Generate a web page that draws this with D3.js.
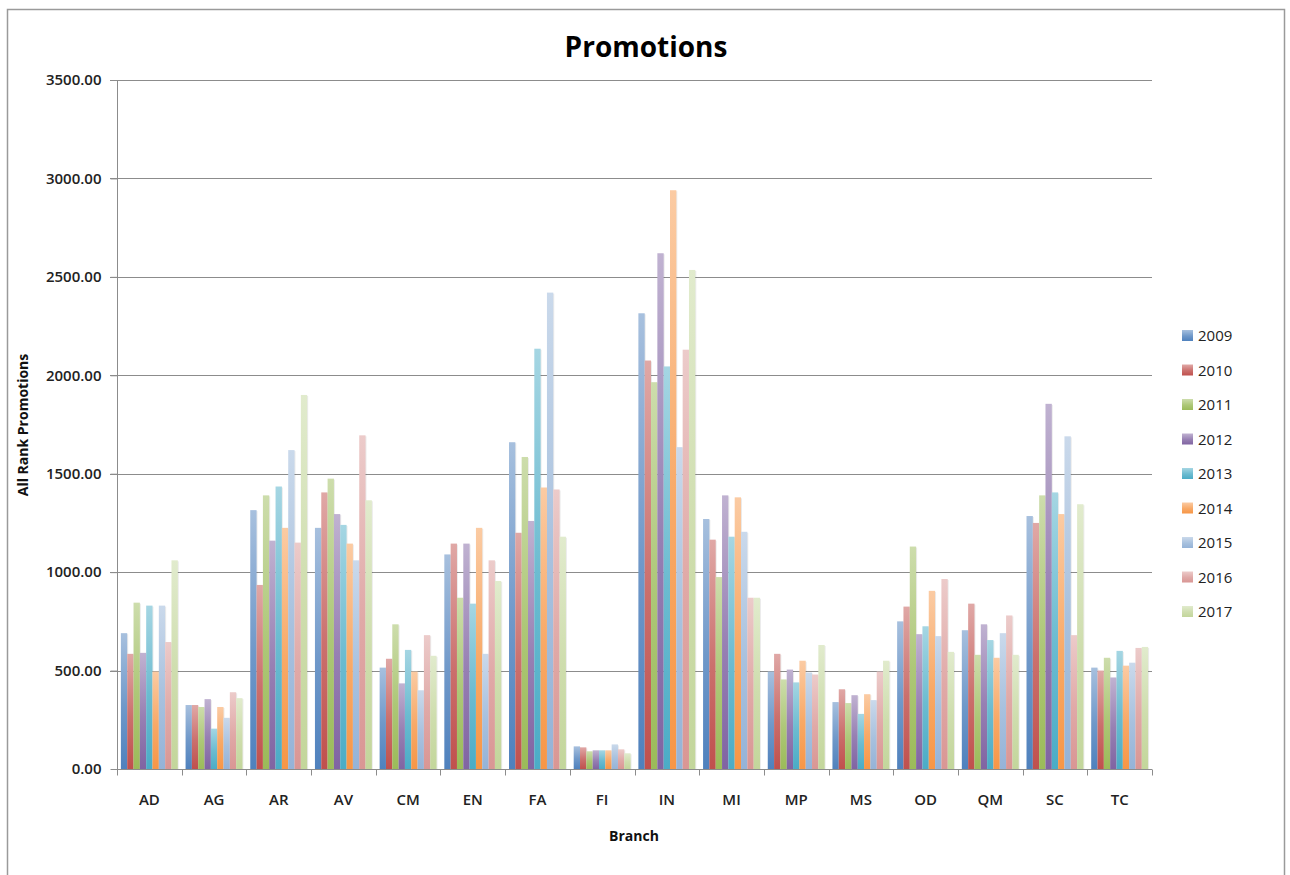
<!DOCTYPE html>
<html>
<head>
<meta charset="utf-8">
<script src="https://cdn.jsdelivr.net/npm/d3@7/dist/d3.min.js"></script>
<style>
  html, body { margin: 0; padding: 0; background: #fff; }
  svg { display: block; font-family: "Open Sans", "Liberation Sans", sans-serif; }
</style>
</head>
<body>
<svg id="chart" width="1290" height="875"></svg>
<script>
// Branch categories along the x axis
const branches = ["AD","AG","AR","AV","CM","EN","FA","FI","IN","MI","MP","MS","OD","QM","SC","TC"];
const years = ["2009","2010","2011","2012","2013","2014","2015","2016","2017"];

// All-rank promotions per branch, one array per year
const v2009 = [690, 325, 1315, 1225, 515, 1090, 1660, 115, 2315, 1270, 495, 340, 750, 705, 1285, 515];
const v2010 = [585, 325, 935, 1405, 560, 1145, 1200, 110, 2075, 1165, 585, 405, 825, 840, 1250, 500];
const v2011 = [845, 315, 1390, 1475, 735, 870, 1585, 90, 1965, 975, 455, 335, 1130, 580, 1390, 565];
const v2012 = [590, 355, 1160, 1295, 435, 1145, 1260, 95, 2620, 1390, 505, 375, 685, 735, 1855, 465];
const v2013 = [830, 205, 1435, 1240, 605, 840, 2135, 95, 2045, 1180, 440, 280, 725, 655, 1405, 600];
const v2014 = [495, 315, 1225, 1145, 495, 1225, 1430, 95, 2940, 1380, 550, 380, 905, 565, 1295, 525];
const v2015 = [830, 260, 1620, 1060, 400, 585, 2420, 125, 1635, 1205, 490, 350, 675, 690, 1690, 540];
const v2016 = [645, 390, 1150, 1695, 680, 1060, 1420, 100, 2130, 870, 480, 495, 965, 780, 680, 615];
const v2017 = [1060, 360, 1900, 1365, 575, 955, 1180, 80, 2535, 870, 630, 550, 595, 580, 1345, 620];
const seriesValues = [v2009, v2010, v2011, v2012, v2013, v2014, v2015, v2016, v2017];

const yTicks = [0, 500, 1000, 1500, 2000, 2500, 3000, 3500];

const colors = ["#4F81BD","#C0504D","#9BBB59","#8064A2","#4BACC6","#F79646","#95B3D7","#D99694","#C3D69B"];

const svg = d3.select("#chart");

// Outer chart border
svg.append("rect")
  .attr("x", 7.5).attr("y", 9.5)
  .attr("width", 1277).attr("height", 880)
  .attr("fill", "#fff").attr("stroke", "#9a9a9a").attr("stroke-width", 1.5);

// Gradients: pale tint at the top, full colour at the base
const defs = svg.append("defs");
colors.forEach((c, i) => {
  const g = defs.append("linearGradient")
    .attr("id", "grad" + i)
    .attr("x1", 0).attr("y1", 0).attr("x2", 0).attr("y2", 1);
  const top = d3.interpolateRgb(c, "#ffffff")(0.5);
  const mid = d3.interpolateRgb(c, "#ffffff")(0.18);
  g.append("stop").attr("offset", "0%").attr("stop-color", top);
  g.append("stop").attr("offset", "55%").attr("stop-color", mid);
  g.append("stop").attr("offset", "100%").attr("stop-color", c);
});

const x = d3.scaleBand().domain(branches).range([117, 1152]).paddingInner(0.12).paddingOuter(0.06);
const x1 = d3.scaleBand().domain(years).range([0, x.bandwidth()]).padding(0);
const y = d3.scaleLinear().domain([0, 3500]).range([769, 80]);

// Horizontal gridlines
svg.append("g")
  .selectAll("line")
  .data(yTicks.filter(t => t > 0))
  .join("line")
  .attr("x1", 110).attr("x2", 1152)
  .attr("y1", d => Math.round(y(d)) + 0.5).attr("y2", d => Math.round(y(d)) + 0.5)
  .attr("stroke", "#8c8c8c").attr("stroke-width", 1);

// Bars
const rows = branches.map((b, bi) => ({ branch: b, vals: years.map((yr, si) => ({ year: yr, si, v: seriesValues[si][bi] })) }));

const groups = svg.append("g").selectAll("g")
  .data(rows).join("g")
  .attr("transform", d => `translate(${x(d.branch)},0)`);

// soft shadow along the right edge of each bar
groups.selectAll("rect.shadow")
  .data(d => d.vals).join("rect")
  .attr("class", "shadow")
  .attr("x", d => x1(d.year) + 1)
  .attr("y", d => y(d.v) + 1)
  .attr("width", x1.bandwidth())
  .attr("height", d => y(0) - y(d.v) - 1)
  .attr("fill", "#000").attr("opacity", 0.08);

groups.selectAll("rect.bar")
  .data(d => d.vals).join("rect")
  .attr("class", "bar")
  .attr("x", d => x1(d.year))
  .attr("y", d => y(d.v))
  .attr("width", x1.bandwidth())
  .attr("height", d => y(0) - y(d.v))
  .attr("fill", d => `url(#grad${d.si})`);

// Y axis
const yAxis = d3.axisLeft(y).tickValues(yTicks).tickFormat(d3.format(".2f")).tickSize(7).tickPadding(9);
const gy = svg.append("g").attr("transform", "translate(117.5,0)").call(yAxis);
gy.select(".domain").attr("stroke", "#8c8c8c").attr("d", `M0,${y(3500)}V${y(0)}`);
gy.selectAll(".tick line").attr("stroke", "#8c8c8c");
gy.selectAll(".tick text").attr("font-size", 15).attr("font-weight", 600).attr("fill", "#222").attr("font-family", "'Open Sans', sans-serif");

// X axis baseline and category boundary ticks
const baseY = Math.round(y(0)) + 0.5;
svg.append("line").attr("x1", 117).attr("x2", 1152).attr("y1", baseY).attr("y2", baseY).attr("stroke", "#8c8c8c");
const step = x.step();
svg.append("g").selectAll("line")
  .data(d3.range(branches.length + 1))
  .join("line")
  .attr("x1", i => Math.round(117 + i * step) + 0.5)
  .attr("x2", i => Math.round(117 + i * step) + 0.5)
  .attr("y1", baseY).attr("y2", baseY + 6)
  .attr("stroke", "#8c8c8c");

svg.append("g").selectAll("text")
  .data(branches).join("text")
  .attr("x", d => x(d) + x.bandwidth() / 2)
  .attr("y", 805)
  .attr("text-anchor", "middle")
  .attr("font-size", 15).attr("font-weight", 600).attr("fill", "#222")
  .text(d => d);

// Titles
svg.append("text")
  .attr("x", 646).attr("y", 57)
  .attr("text-anchor", "middle")
  .attr("font-size", 28).attr("font-weight", 700).attr("fill", "#000")
  .text("Promotions");

svg.append("text")
  .attr("x", 634).attr("y", 841)
  .attr("text-anchor", "middle")
  .attr("font-size", 14).attr("font-weight", 700).attr("fill", "#111")
  .text("Branch");

svg.append("text")
  .attr("transform", "translate(28,425) rotate(-90)")
  .attr("text-anchor", "middle")
  .attr("font-size", 14).attr("font-weight", 700).attr("fill", "#111")
  .text("All Rank Promotions");

// Legend
const legend = svg.append("g").selectAll("g")
  .data(years).join("g")
  .attr("transform", (d, i) => `translate(1182, ${336 + i * 34.5})`);
legend.append("rect")
  .attr("x", 0).attr("y", -6).attr("width", 11).attr("height", 11)
  .attr("fill", (d, i) => `url(#grad${i})`);
legend.append("text")
  .attr("x", 16).attr("y", 5)
  .attr("font-size", 15).attr("fill", "#222")
  .text(d => d);
</script>
</body>
</html>
